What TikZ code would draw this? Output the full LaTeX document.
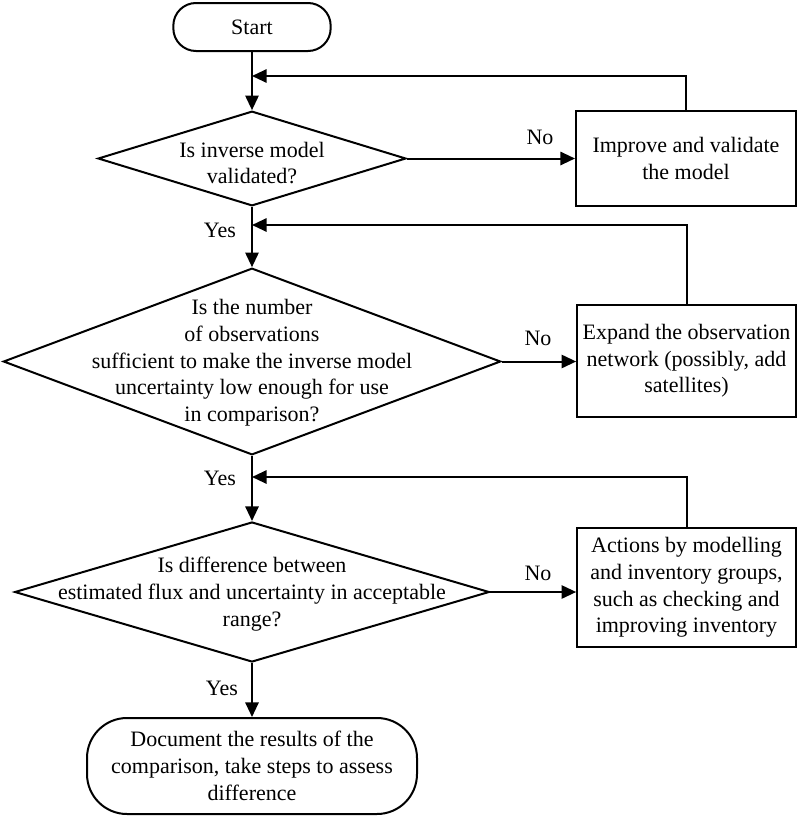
\documentclass[tikz,border=0pt]{standalone}
\usepackage{fontspec}
\setmainfont{Liberation Serif}
\usetikzlibrary{shapes.geometric,arrows.meta}
\begin{document}
\begin{tikzpicture}[x=0.75pt,y=-0.75pt,
  every node/.style={font=\fontsize{16.5}{20}\selectfont},
  ln/.style={line width=1.5pt},
  arr/.style={ln,-{Triangle[length=11pt,width=10pt]}},
  dia/.style={draw,ln,diamond,inner sep=0pt},
  boxn/.style={draw,ln,rectangle,align=center,inner sep=2pt},
  term/.style={draw,ln,rectangle,align=center},
  txt/.style={align=center,inner sep=0pt},
  lbl/.style={inner sep=0pt}]
\useasboundingbox (0,0) rectangle (800,818);
% nodes
\node[term,minimum width=118pt,minimum height=36pt,rounded corners=17pt] (s) at (252,27) {Start};
\node[dia,minimum width=231pt,minimum height=71pt] (d1) at (252,158.5) {};
\node[txt] (t1) at (252,163) {Is inverse model\\validated?};
\node[boxn,minimum width=165pt,minimum height=71pt] (b1) at (686,158.5) {Improve and validate\\the model};
\node[dia,minimum width=373pt,minimum height=140pt] (d2) at (252,361.5) {};
\node[txt] (t2) at (252,363) {Is the number\\of observations\\sufficient to make the inverse model\\uncertainty low enough for use\\in comparison?};
\node[boxn,minimum width=164pt,minimum height=84pt] (b2) at (686.5,361) {Expand the observation\\network (possibly, add\\satellites)};
\node[dia,minimum width=356pt,minimum height=105pt] (d3) at (252,592) {};
\node[txt] (t3) at (252,594) {Is difference between\\estimated flux and uncertainty in acceptable\\range?};
\node[boxn,minimum width=164pt,minimum height=89pt] (b3) at (686.5,587.5) {Actions by modelling\\and inventory groups,\\such as checking and\\improving inventory};
\node[term,minimum width=247.5pt,minimum height=72pt,rounded corners=30pt] (e) at (252,766) {Document the results of the\\comparison, take steps to assess\\difference};
% labels
\node[lbl] (n1) at (540,137) {No};
\node[lbl] (n2) at (538,338) {No};
\node[lbl] (n3) at (538,573) {No};
\node[lbl] (y1) at (220,230) {Yes};
\node[lbl] (y2) at (220,478) {Yes};
\node[lbl] (y3) at (222,688) {Yes};
% feedback points
\coordinate (f1) at (252,76);
\coordinate (f2) at (252,225);
\coordinate (f3) at (252,477);
% connectors
\draw[arr] (s) -- (d1.north);
\draw[arr] (d1.south) -- (d2.north);
\draw[arr] (d2.south) -- (d3.north);
\draw[arr] (d3.south) -- (e.north);
\draw[arr] (d1.east) -- (d1.east -| b1.west);
\draw[arr] (d2.east) -- (d2.east -| b2.west);
\draw[arr] (d3.east) -- (d3.east -| b3.west);
\draw[arr] (b1.north) |- (f1);
\draw[arr] (b2.north) |- (f2);
\draw[arr] (b3.north) |- (f3);
\end{tikzpicture}
\end{document}
